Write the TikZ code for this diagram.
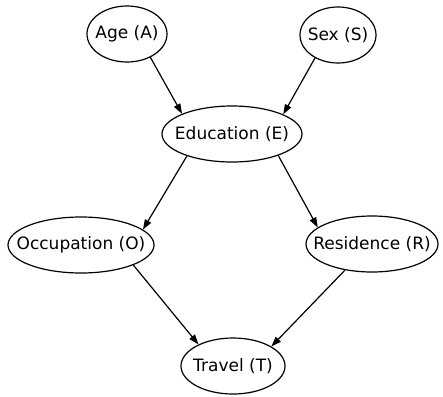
\documentclass[tikz,border=0pt]{standalone}
\usepackage{fontspec}
\setmainfont{DejaVu Sans}
\usetikzlibrary{shapes.geometric,arrows.meta}
% zero-width label so the ellipse size comes from the style alone
\newcommand\vlabel[1]{\makebox[0pt]{#1}}
\begin{document}
\begin{tikzpicture}[x=1pt,y=-1pt,
  var/.style={draw, ellipse, line width=1.2pt, inner sep=0pt,
    minimum height=56pt, font=\fontsize{17}{20}\selectfont},
  arr/.style={line width=1.2pt, -{Triangle[length=10pt,width=7pt]}}]
  \useasboundingbox (0,0) rectangle (443,396);
  \node[var, minimum width=80pt]  (age) at (127,34)  {\vlabel{Age (A)}};
  \node[var, minimum width=76pt]  (sex) at (338,35)  {\vlabel{Sex (S)}};
  \node[var, minimum width=140pt] (edu) at (232,134) {\vlabel{Education (E)}};
  \node[var, minimum width=146pt] (occ) at (81,245)  {\vlabel{Occupation (O)}};
  \node[var, minimum width=132pt] (res) at (372,244) {\vlabel{Residence (R)}};
  \node[var, minimum width=104pt] (tra) at (233,366) {\vlabel{Travel (T)}};
  \draw[arr] (age.-45)  -- (edu.158);
  \draw[arr] (sex.-135) -- (edu.21);
  \draw[arr] (edu.-154) -- (occ.14);
  \draw[arr] (edu.-25)  -- (res.163);
  \draw[arr] (occ.-21)  -- (tra.148);
  \draw[arr] (res.-136) -- (tra.27);
\end{tikzpicture}
\end{document}
